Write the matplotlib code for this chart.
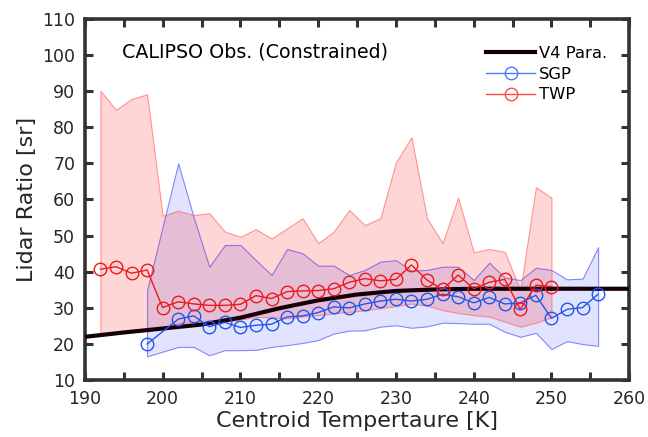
import matplotlib
matplotlib.use('Agg')
import matplotlib.pyplot as plt
from matplotlib.ticker import MultipleLocator

# V4 parameterisation curve
v4_t = [190, 195, 200, 205, 210, 215, 220, 225, 230, 235, 240, 245, 250, 260]
v4_lr = [22.0, 23.2, 24.3, 25.4, 27.3, 29.9, 32.1, 33.7, 34.7, 35.1, 35.3, 35.3, 35.3, 35.3]

# TWP: mean and spread
twp_t = list(range(192, 251, 2))
twp_mean = [40.7, 41.4, 39.6, 40.5, 30.1, 31.7, 31.1, 30.7, 30.7, 31.0,
            33.4, 32.6, 34.5, 34.7, 34.8, 35.3, 37.1, 38.1, 37.5, 37.9,
            41.9, 37.7, 35.1, 39.1, 35.3, 37.1, 37.9, 29.6, 36.3, 35.9]
twp_hi = [90.1, 84.8, 87.8, 89.1, 55.5, 56.9, 55.7, 56.2, 51.1, 49.7,
          51.8, 49.2, 52.0, 54.8, 47.9, 51.1, 57.1, 52.9, 54.8, 70.3,
          77.2, 54.8, 47.9, 60.5, 45.4, 46.3, 45.5, 34.9, 63.4, 60.5]
twp_lo = [22.7, 23.1, 23.5, 24.0, 24.5, 25.8, 26.2, 25.7, 26.2, 26.8,
          27.5, 27.4, 27.1, 27.6, 28.0, 28.5, 28.9, 29.3, 29.9, 30.5,
          31.2, 30.6, 29.4, 28.6, 28.0, 27.6, 26.2, 24.8, 25.9, 27.4]

# SGP: mean and spread (no bin at 200 K)
sgp_t = [198] + list(range(202, 257, 2))
sgp_mean = [20.0, 26.9, 27.8, 24.8, 26.0, 24.6, 25.2, 25.5, 27.5,
            27.8, 28.7, 30.3, 30.0, 31.1, 31.9, 32.4, 31.9, 32.4, 33.8,
            33.1, 31.4, 32.9, 31.1, 31.4, 33.5, 27.1, 29.6, 30.1, 33.8]
sgp_hi = [34.9, 70.0, 55.0, 41.4, 47.4, 47.4, 43.2, 39.1, 46.3,
          45.1, 41.7, 41.7, 39.1, 40.5, 42.8, 43.2, 40.3, 40.5, 41.4,
          41.4, 37.7, 42.5, 38.4, 37.7, 41.1, 40.5, 37.9, 38.1, 46.8]
sgp_lo = [16.6, 19.2, 19.2, 16.9, 18.3, 18.3, 18.4, 19.2, 19.7,
          20.3, 21.1, 22.9, 23.7, 23.8, 24.8, 25.2, 24.5, 24.9, 25.9,
          25.8, 25.6, 25.6, 23.4, 22.0, 23.1, 18.6, 20.8, 20.0, 19.5]

TXT = '#262626'
plt.rcParams['font.family'] = ['DejaVu Sans']

fig = plt.figure(figsize=(6.48, 4.37), dpi=100)
ax = fig.add_axes([0.131, 0.130, 0.840, 0.827])

# spread envelopes (SGP underneath, TWP on top)
ax.fill_between(sgp_t, sgp_lo, sgp_hi, facecolor=(0.3, 0.35, 1, 0.17),
                edgecolor=(0.35, 0.35, 1, 0.7), linewidth=0.8, zorder=1)
ax.fill_between(twp_t, twp_lo, twp_hi, facecolor=(1, 0, 0, 0.16),
                edgecolor=(1, 0.35, 0.35, 0.6), linewidth=0.8, zorder=2)

ax.plot(v4_t, v4_lr, '-', color='#160008', lw=3, zorder=3, label='V4 Para.')
ax.plot(sgp_t, sgp_mean, '-o', color='#2255ee', lw=1, ms=9,
        mfc='none', mew=1, zorder=4, label='SGP')
ax.plot(twp_t, twp_mean, '-o', color='#ee1818', lw=1, ms=9,
        mfc='none', mew=1, zorder=4, label='TWP')

ax.set_xlim(190, 260)
ax.set_ylim(10, 110)
ax.xaxis.set_major_locator(MultipleLocator(10))
ax.xaxis.set_minor_locator(MultipleLocator(5))
ax.yaxis.set_major_locator(MultipleLocator(10))
ax.tick_params(which='both', direction='in', top=True, right=True,
               length=6, width=2.2, color='#333333',
               labelsize=12.5, labelcolor=TXT)
ax.tick_params(axis='x', pad=7)
ax.tick_params(axis='y', pad=7)
for sp in ax.spines.values():
    sp.set_linewidth(2.6)
    sp.set_color('#333333')

ax.set_xlabel('Centroid Tempertaure [K]', fontsize=16, color=TXT, labelpad=2)
ax.set_ylabel('Lidar Ratio [sr]', fontsize=16, color=TXT, labelpad=4)

ax.text(0.068, 0.935, 'CALIPSO Obs. (Constrained)', transform=ax.transAxes,
        fontsize=13.7, color='black', ha='left', va='top')
leg = ax.legend(loc='upper right', bbox_to_anchor=(0.99, 0.97), frameon=False,
                fontsize=11.8, handlelength=3.0, handletextpad=0.25,
                labelspacing=0.35, borderaxespad=0.6)
leg.get_lines()[1].set_color('#4a78ff')
leg.get_lines()[2].set_color('#ff4a4a')

fig.savefig('out.png', dpi=100, facecolor='white')
